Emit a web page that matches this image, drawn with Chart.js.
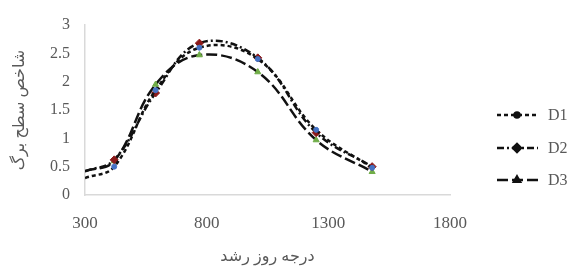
<!DOCTYPE html>
<html>
<head>
<meta charset="utf-8">
<script src="https://cdn.jsdelivr.net/npm/chart.js@4"></script>
<style>
  html, body { margin: 0; padding: 0; background: #fff; }
  #wrap { width: 575px; height: 266px; position: relative; }
</style>
</head>
<body>
<div id="wrap"><canvas id="lai"></canvas></div>
<script>
const gdd = [300, 420, 590, 770, 1010, 1250, 1480];
const d1 = [0.3, 0.5, 1.85, 2.6, 2.4, 1.15, 0.48];
const d2 = [0.42, 0.62, 1.8, 2.68, 2.42, 1.1, 0.5];
const d3 = [0.42, 0.6, 1.95, 2.47, 2.17, 0.97, 0.41];
const xTicks = [300, 800, 1300, 1800];
const yTicks = [0, 0.5, 1, 1.5, 2, 2.5, 3];

const seriesNames = ['D1', 'D2', 'D3'];
const lineDash = [[4, 3], [7, 3, 2, 3], [11, 4]];
const markerColor = ['#4472c4', '#8b1a1a', '#70ad47'];
const markerStyle = ['circle', 'rectRot', 'triangle'];
const markerSize = [2.5, 4, 3.5];

const textColor = '#595959';
const serif = '"Liberation Serif", "DejaVu Serif", serif';
const persian = '"Noto Sans", "DejaVu Sans", sans-serif';

function toPoints(ys) {
  return gdd.map((x, i) => ({ x: x, y: ys[i] }));
}

function makeSet(i, ys) {
  return {
    label: seriesNames[i],
    data: toPoints(ys),
    showLine: true,
    borderColor: '#111',
    borderWidth: 2.5,
    borderDash: lineDash[i],
    tension: 0.4,
    pointStyle: markerStyle[i],
    pointRadius: ys.map((v, k) => (k === 0 ? 0 : markerSize[i])),
    pointBackgroundColor: markerColor[i],
    pointBorderColor: markerColor[i],
    pointBorderWidth: 1,
    fill: false,
  };
}

// Excel-style legend on the right: dashed sample with the marker in the middle
const sideLegend = {
  id: 'sideLegend',
  afterDraw(chart) {
    const ctx = chart.ctx;
    const x0 = 497;
    const rows = [115, 148, 180];
    chart.data.datasets.forEach((ds, i) => {
      const y = rows[i];
      ctx.save();
      ctx.strokeStyle = '#111';
      ctx.lineWidth = 2.5;
      ctx.setLineDash(ds.borderDash);
      ctx.beginPath();
      ctx.moveTo(x0, y);
      ctx.lineTo(x0 + 41, y);
      ctx.stroke();
      ctx.setLineDash([]);
      Chart.helpers.drawPoint(ctx, {
        pointStyle: ds.pointStyle,
        radius: markerSize[i],
        borderWidth: 1,
      }, x0 + 20, y);
      ctx.fillStyle = '#111';
      ctx.fill();
      ctx.fillStyle = textColor;
      ctx.font = '16px ' + serif;
      ctx.textBaseline = 'middle';
      ctx.fillText(ds.label, x0 + 51, y + 1);
      ctx.restore();
    });
    // x axis title
    const area = chart.chartArea;
    ctx.save();
    ctx.fillStyle = textColor;
    ctx.font = '16px ' + persian;
    ctx.textAlign = 'center';
    ctx.textBaseline = 'middle';
    ctx.direction = 'rtl';
    ctx.fillText('درجه روز رشد', (area.left + area.right) / 2, 256);
    ctx.restore();
  },
};

new Chart(document.getElementById('lai'), {
  type: 'scatter',
  data: {
    datasets: [makeSet(0, d1), makeSet(1, d2), makeSet(2, d3)],
  },
  options: {
    responsive: true,
    maintainAspectRatio: false,
    animation: false,
    layout: { padding: { left: 0, right: 125, top: 25, bottom: 0 } },
    plugins: {
      legend: { display: false },
      tooltip: { enabled: false },
    },
    scales: {
      x: {
        type: 'linear',
        min: 300,
        max: 1800,
        afterBuildTicks(axis) {
          axis.ticks = xTicks.map((v) => ({ value: v }));
        },
        afterFit(axis) { axis.height = 71; },
        grid: { display: false, drawTicks: false },
        border: { color: '#d9d9d9', width: 1.5 },
        ticks: {
          color: textColor,
          font: { family: serif, size: 17 },
          padding: 18,
          callback: (v) => String(v),
        },
      },
      y: {
        min: 0,
        max: 3,
        afterBuildTicks(axis) {
          axis.ticks = yTicks.map((v) => ({ value: v }));
        },
        afterFit(axis) { axis.width = 85; },
        grid: { display: false, drawTicks: false },
        border: { color: '#d9d9d9', width: 1.5 },
        ticks: {
          color: textColor,
          font: { family: serif, size: 16 },
          padding: 15,
          callback: (v) => String(v),
        },
        title: {
          display: true,
          text: 'شاخص سطح برگ',
          color: textColor,
          font: { family: persian, size: 16 },
          padding: { top: 10, bottom: 0 },
        },
      },
    },
  },
  plugins: [sideLegend],
});
</script>
</body>
</html>
